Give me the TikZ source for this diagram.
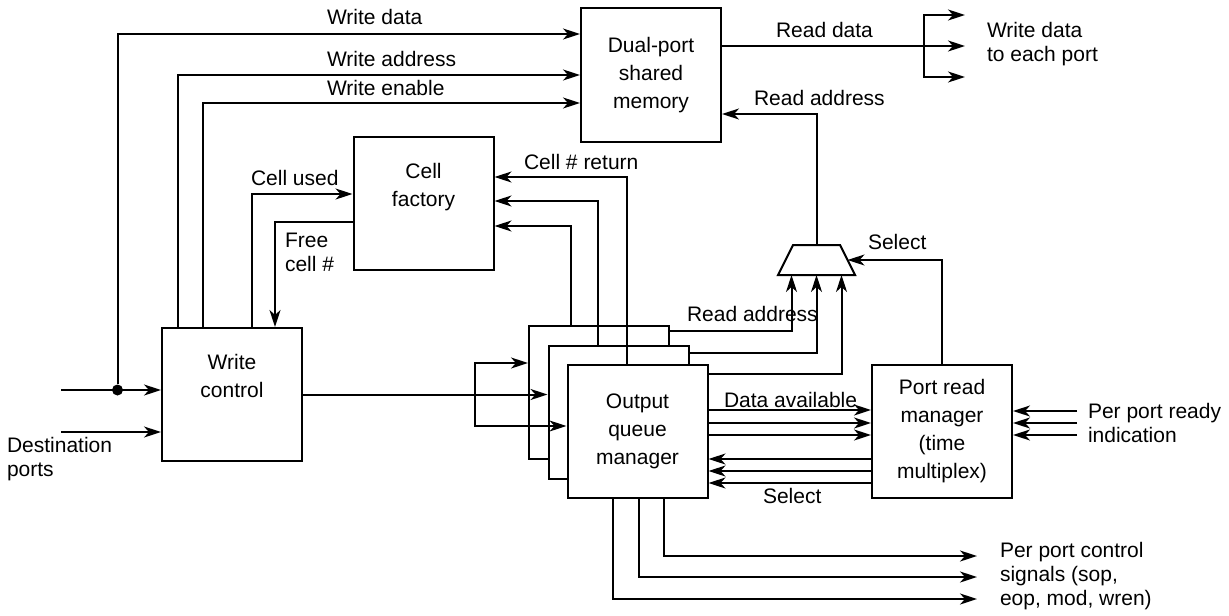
\documentclass[tikz,border=0pt]{standalone}
\usepackage{fontspec}
\setmainfont{Liberation Sans}
\usetikzlibrary{arrows.meta}

\begin{document}
\begin{tikzpicture}[
		x=0.5pt,y=-0.5pt,line width=1pt,
		g/.style={rectangle,draw,fill=white,minimum width=70pt,minimum height=66.5pt,inner sep=0pt,align=center,font=\fontsize{10.5}{14}\selectfont},
		w/.style={anchor=west,inner sep=0pt,align=left,font=\fontsize{10.5}{12}\selectfont},
		d/.style={circle,fill,inner sep=0pt,minimum size=5.5pt},
		a/.style={draw,-{Stealth[length=8.5pt,width=5.5pt,inset=2.5pt]}}
		]
		
		\useasboundingbox (0,0) rectangle (1229,615);
		
		\node [g] (memory) at (651,75) {Dual-port\\shared\\memory};
		\node [g] (factory) at (423.5,203) {Cell\\factory\\\strut};
		\node [g] (write) at (232,394.5) {Write\\control\\\strut};
		\node [g] (queue1) at (599,392.5) {};
		\node [g] (queue2) at (618.5,412) {};
		\node [g] (queue3) at (637.5,431.5) {Output\\queue\\manager};
		\node [g] (reader) at (942,431.5) {Port read\\manager\\(time\\multiplex)};
		\node [d] (tap) at (117.5,390) {};
		
		% multiplexer
		\coordinate (mux) at (816.5,260);
		\coordinate (mux south) at (816.5,275);
		\coordinate (mux north) at (816.5,245);
		\coordinate (mux east) at (847.5,260);
		\draw (778,275) -- (793,245) -- (840,245) -- (855,275) -- cycle;
		
		\coordinate (ports) at (61,0);
		\coordinate (split) at (475,394.5);
		\coordinate (fan) at (924,46);
		\coordinate (fan end) at (965,0);
		\coordinate (ready) at (1077,0);
		\coordinate (control) at (977,0);
		
		\node [w] (write data) at (326,17) {Write data};
		\node [w] (write address) at (326,59) {Write address};
		\node [w] (write enable) at (326,88) {Write enable};
		\node [w] (cell used) at (250,178) {Cell used};
		\node [w] (free cell) at (284,252) {Free\\cell \#};
		\node [w] (cell return) at (523,162) {Cell \# return};
		\node [w] (read data) at (775,30) {Read data};
		\node [w] (read address) at (753,98) {Read address};
		\node [w] (each port) at (986,44.5) {Write data\\to each port};
		\node [w] (select) at (867,242) {Select};
		\node [w] (queue address) at (686,314) {Read address};
		\node [w] (available) at (723,400) {Data available};
		\node [w] (select back) at (762,496) {Select};
		\node [w] (ready text) at (1087,423) {Per port ready\\indication};
		\node [w] (control text) at (999,576) {Per port control\\signals (sop,\\eop, mod, wren)};
		\node [w] (destination) at (6,459.5) {Destination\\ports};
		
		\path [a] (ports |- tap) -- (write.west |- tap);
		\path [a] (ports |- 0,432) -- (write.west |- 0,432);
		\path [a] (tap) |- (memory.west |- 0,34);
		\path [a] (write.north -| 178,0) |- (memory.west);
		\path [a] (write.north -| 203,0) |- (memory.west |- 0,103);
		\path [a] (write.north -| 252,0) |- (factory.west |- 0,194);
		\path [a] (factory.west |- 0,222) -| (write.north -| 275,0);
		
		\path [draw] (write.east) -- (split);
		\path [a] (split) -- (queue2.west |- split);
		\path [a] (split) |- (queue1.west |- 0,363);
		\path [a] (split) |- (queue3.west |- 0,426);
		
		\path [a] (queue3.north -| 627,0) |- (factory.east |- 0,177);
		\path [a] (queue2.north -| 598,0) |- (factory.east |- 0,201);
		\path [a] (queue1.north -| 571,0) |- (factory.east |- 0,226);
		
		\path [a] (queue1.east |- 0,331) -| ([xshift=-12.5pt]mux south);
		\path [a] (queue2.east |- 0,353) -| (mux south);
		\path [a] (queue3.east |- 0,374) -| ([xshift=12.5pt]mux south);
		\path [a] (mux north) |- (memory.east |- 0,114);
		\path [a] (reader.north) |- (mux east);
		
		\path [draw] (memory.east |- fan) -- (fan);
		\path [a] (fan) -- (fan end |- fan);
		\path [a] (fan) |- (fan end |- 0,15);
		\path [a] (fan) |- (fan end |- 0,77);
		
		\foreach \y in {410,423,435}
			\path [a] (queue3.east |- 0,\y) -- (reader.west |- 0,\y);
		\foreach \y in {459,471,483}
			\path [a] (reader.west |- 0,\y) -- (queue3.east |- 0,\y);
		\foreach \y in {411,423,435}
			\path [a] (ready |- 0,\y) -- (reader.east |- 0,\y);
		\foreach \x/\y in {664/556,639/577,613/599}
			\path [a] (queue3.south -| \x,0) |- (control |- 0,\y);
		
	\end{tikzpicture}
\end{document}
